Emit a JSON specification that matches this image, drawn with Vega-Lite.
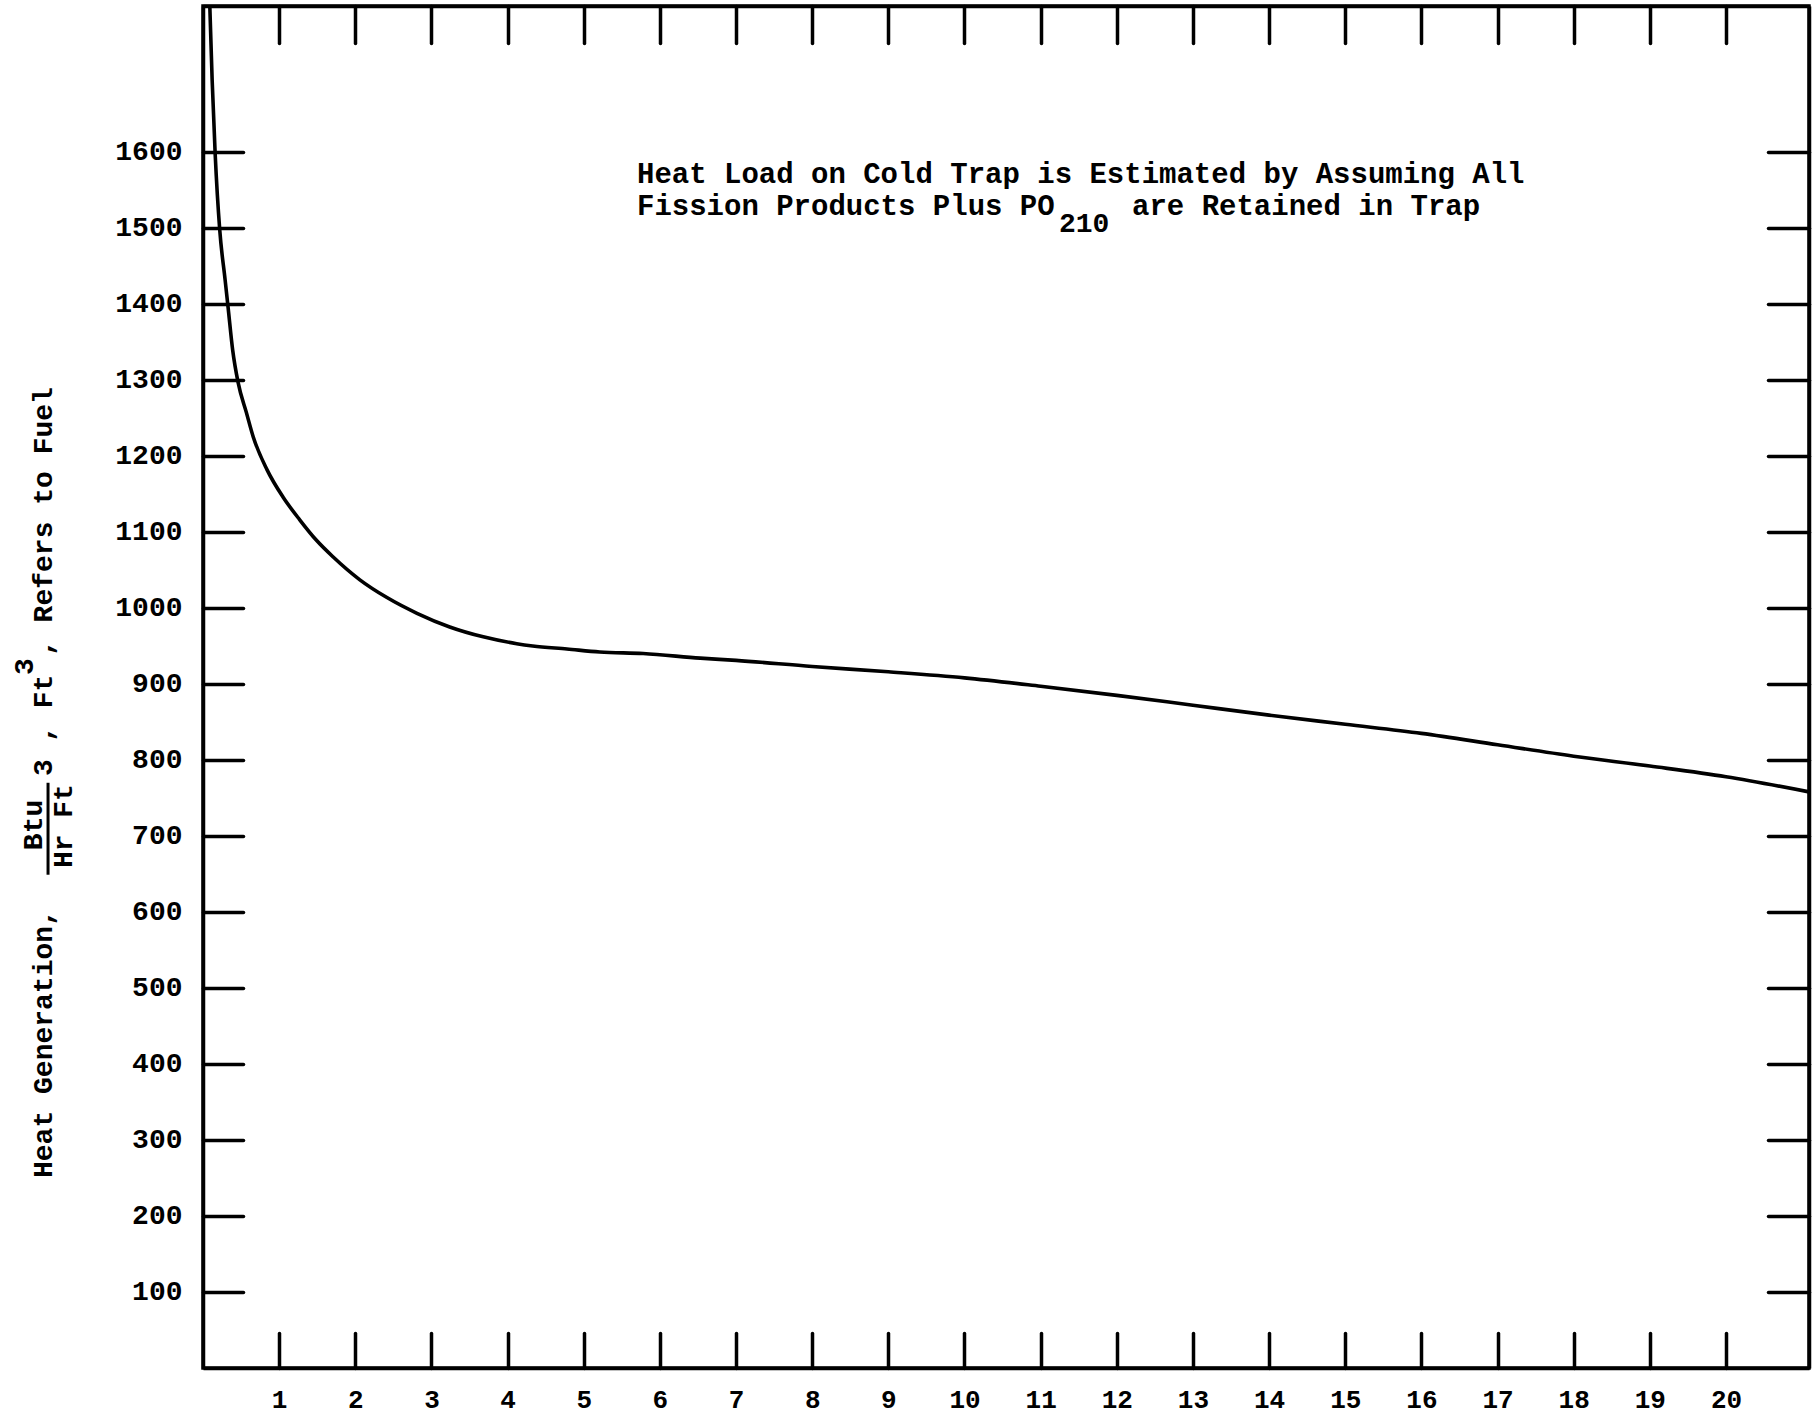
{
  "$schema": "https://vega.github.io/schema/vega-lite/v6.json",
  "width": 1606,
  "height": 1362,
  "autosize": {"type": "none"},
  "padding": {"left": 203, "top": 6, "right": 9, "bottom": 48},
  "background": "white",
  "config": {
    "view": {"stroke": "black", "strokeWidth": 3.5},
    "font": "Liberation Mono",
    "axis": {
      "domainColor": "black",
      "domainWidth": 3.5,
      "tickColor": "black",
      "tickWidth": 3.5,
      "tickCap": "round",
      "labelColor": "black",
      "labelFont": "Liberation Mono",
      "labelFontWeight": "bold",
      "format": "d",
      "grid": false,
      "title": null
    },
    "text": {"color": "black", "font": "Liberation Mono", "fontWeight": "bold"}
  },
  "data": {
    "values": [
      {"time": 0.09, "heat": 1790},
      {"time": 0.12, "heat": 1695},
      {"time": 0.16, "heat": 1597},
      {"time": 0.22, "heat": 1497},
      {"time": 0.29, "heat": 1432},
      {"time": 0.33, "heat": 1395},
      {"time": 0.39, "heat": 1339},
      {"time": 0.46, "heat": 1297},
      {"time": 0.57, "heat": 1257},
      {"time": 0.66, "heat": 1225},
      {"time": 0.84, "heat": 1182},
      {"time": 1.05, "heat": 1146},
      {"time": 1.27, "heat": 1116},
      {"time": 1.49, "heat": 1089},
      {"time": 1.71, "heat": 1067},
      {"time": 2.06, "heat": 1037},
      {"time": 2.41, "heat": 1014},
      {"time": 2.81, "heat": 993},
      {"time": 3.24, "heat": 975},
      {"time": 3.68, "heat": 962},
      {"time": 4.12, "heat": 953},
      {"time": 4.33, "heat": 950},
      {"time": 4.78, "heat": 946},
      {"time": 5.21, "heat": 942},
      {"time": 5.78, "heat": 940},
      {"time": 6.53, "heat": 934},
      {"time": 7, "heat": 931},
      {"time": 8, "heat": 923},
      {"time": 9, "heat": 916},
      {"time": 10, "heat": 908},
      {"time": 11, "heat": 897},
      {"time": 12, "heat": 885},
      {"time": 13, "heat": 872},
      {"time": 14, "heat": 859},
      {"time": 15, "heat": 847},
      {"time": 16, "heat": 835},
      {"time": 17, "heat": 820},
      {"time": 18, "heat": 805},
      {"time": 19, "heat": 792},
      {"time": 20, "heat": 778},
      {"time": 21.09, "heat": 758}
    ]
  },
  "resolve": {"axis": {"x": "independent", "y": "independent"}},
  "layer": [
    {
      "mark": {"type": "line", "color": "black", "strokeWidth": 3.6, "interpolate": "monotone"},
      "encoding": {
        "x": {
          "field": "time", "type": "quantitative",
          "scale": {"domain": [0, 21.09], "nice": false, "zero": false},
          "axis": {
            "orient": "bottom",
            "values": [1, 2, 3, 4, 5, 6, 7, 8, 9, 10, 11, 12, 13, 14, 15, 16, 17, 18, 19, 20],
            "tickSize": -35, "labelPadding": 53, "labelFontSize": 26
          }
        },
        "y": {
          "field": "heat", "type": "quantitative",
          "scale": {"domain": [0, 1792], "nice": false},
          "axis": {
            "orient": "left",
            "values": [100, 200, 300, 400, 500, 600, 700, 800, 900, 1000, 1100, 1200, 1300, 1400, 1500, 1600],
            "tickSize": -40, "labelPadding": 61, "labelFontSize": 28
          }
        }
      }
    },
    {
      "mark": {"type": "line", "strokeOpacity": 0},
      "encoding": {
        "x": {
          "field": "time", "type": "quantitative",
          "axis": {
            "orient": "top",
            "values": [1, 2, 3, 4, 5, 6, 7, 8, 9, 10, 11, 12, 13, 14, 15, 16, 17, 18, 19, 20],
            "tickSize": -37, "labels": false
          }
        },
        "y": {
          "field": "heat", "type": "quantitative",
          "axis": {
            "orient": "right",
            "values": [100, 200, 300, 400, 500, 600, 700, 800, 900, 1000, 1100, 1200, 1300, 1400, 1500, 1600],
            "tickSize": -41, "labels": false
          }
        }
      }
    },
    {
      "data": {"values": [{}]},
      "mark": {"type": "text", "fontSize": 28, "angle": 270, "align": "left", "baseline": "alphabetic", "text": "Heat Generation,"},
      "encoding": {
        "x": {"datum": -1.98, "type": "quantitative", "axis": null},
        "y": {"datum": 250, "type": "quantitative", "axis": null}
      }
    },
    {
      "data": {"values": [{}]},
      "mark": {"type": "text", "fontSize": 28, "angle": 270, "align": "center", "baseline": "alphabetic", "text": "Btu"},
      "encoding": {
        "x": {"datum": -2.114, "type": "quantitative", "axis": null},
        "y": {"datum": 714.5, "type": "quantitative", "axis": null}
      }
    },
    {
      "data": {"values": [{}]},
      "mark": {"type": "rule", "color": "black", "strokeWidth": 3},
      "encoding": {
        "x": {"datum": -2.035, "type": "quantitative", "axis": null},
        "y": {"datum": 649, "type": "quantitative", "axis": null},
        "y2": {"datum": 770}
      }
    },
    {
      "data": {"values": [{}]},
      "mark": {"type": "text", "fontSize": 28, "angle": 270, "align": "center", "baseline": "alphabetic", "text": "Hr Ft"},
      "encoding": {
        "x": {"datum": -1.72, "type": "quantitative", "axis": null},
        "y": {"datum": 713, "type": "quantitative", "axis": null}
      }
    },
    {
      "data": {"values": [{}]},
      "mark": {"type": "text", "fontSize": 28, "angle": 270, "align": "left", "baseline": "alphabetic", "text": "3"},
      "encoding": {
        "x": {"datum": -1.983, "type": "quantitative", "axis": null},
        "y": {"datum": 779, "type": "quantitative", "axis": null}
      }
    },
    {
      "data": {"values": [{}]},
      "mark": {"type": "text", "fontSize": 28, "angle": 270, "align": "left", "baseline": "alphabetic", "text": ", Ft"},
      "encoding": {
        "x": {"datum": -1.98, "type": "quantitative", "axis": null},
        "y": {"datum": 823.7, "type": "quantitative", "axis": null}
      }
    },
    {
      "data": {"values": [{}]},
      "mark": {"type": "text", "fontSize": 28, "angle": 270, "align": "left", "baseline": "alphabetic", "text": "3"},
      "encoding": {
        "x": {"datum": -2.232, "type": "quantitative", "axis": null},
        "y": {"datum": 911.8, "type": "quantitative", "axis": null}
      }
    },
    {
      "data": {"values": [{}]},
      "mark": {"type": "text", "fontSize": 28, "angle": 270, "align": "left", "baseline": "alphabetic", "text": ", Refers to Fuel"},
      "encoding": {
        "x": {"datum": -1.98, "type": "quantitative", "axis": null},
        "y": {"datum": 936.8, "type": "quantitative", "axis": null}
      }
    },
    {
      "data": {"values": [{}]},
      "mark": {"type": "text", "fontSize": 29, "align": "left", "baseline": "alphabetic", "text": "Heat Load on Cold Trap is Estimated by Assuming All"},
      "encoding": {
        "x": {"datum": 5.699, "type": "quantitative", "axis": null},
        "y": {"datum": 1559.2, "type": "quantitative", "axis": null}
      }
    },
    {
      "data": {"values": [{}]},
      "mark": {"type": "text", "fontSize": 29, "align": "left", "baseline": "alphabetic", "text": "Fission Products Plus PO"},
      "encoding": {
        "x": {"datum": 5.699, "type": "quantitative", "axis": null},
        "y": {"datum": 1517.1, "type": "quantitative", "axis": null}
      }
    },
    {
      "data": {"values": [{}]},
      "mark": {"type": "text", "fontSize": 28, "align": "left", "baseline": "alphabetic", "text": "210"},
      "encoding": {
        "x": {"datum": 11.24, "type": "quantitative", "axis": null},
        "y": {"datum": 1495, "type": "quantitative", "axis": null}
      }
    },
    {
      "data": {"values": [{}]},
      "mark": {"type": "text", "fontSize": 29, "align": "left", "baseline": "alphabetic", "text": "are Retained in Trap"},
      "encoding": {
        "x": {"datum": 12.2, "type": "quantitative", "axis": null},
        "y": {"datum": 1517.1, "type": "quantitative", "axis": null}
      }
    }
  ]
}
